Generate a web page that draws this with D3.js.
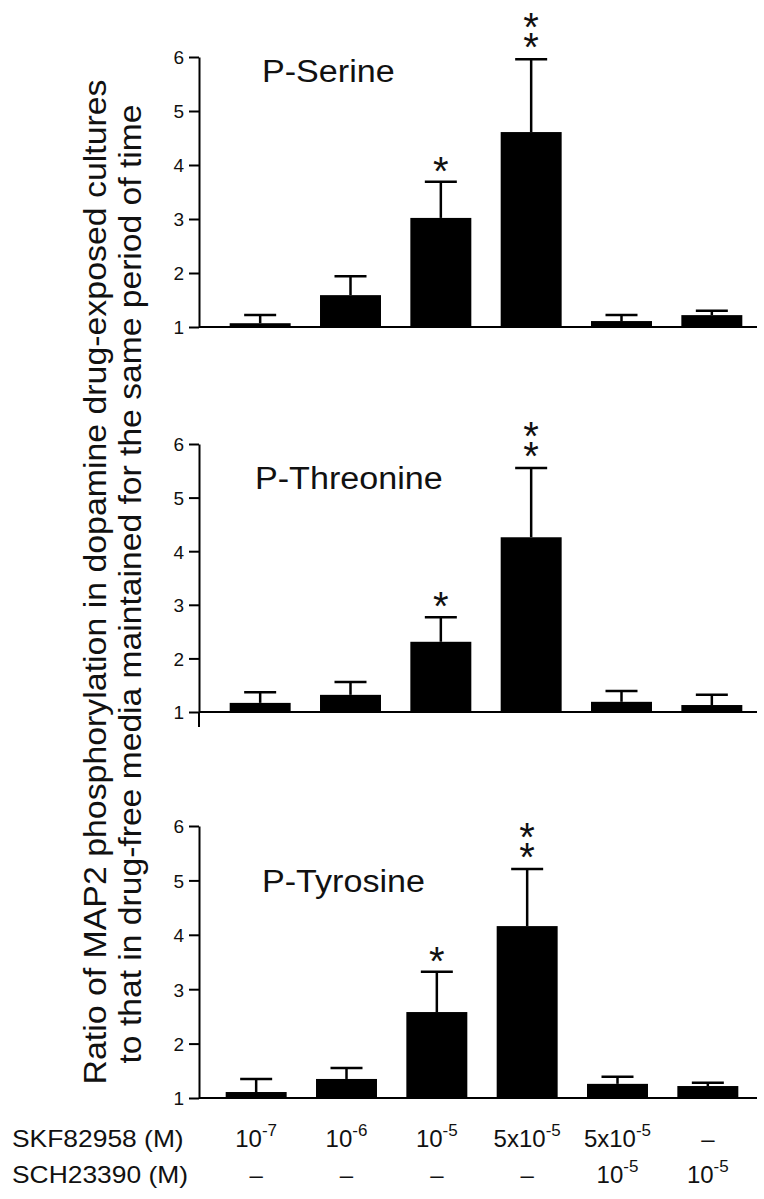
<!DOCTYPE html>
<html>
<head>
<meta charset="utf-8">
<script src="https://cdn.jsdelivr.net/npm/d3@7"></script>
<style>
  body { margin: 0; background: #fff; }
  svg text { font-family: "Liberation Sans", Arial, Helvetica, sans-serif; fill: #111; }
  .stars { writing-mode: vertical-rl; text-orientation: upright; }
</style>
</head>
<body>
<div id="chart"></div>
<script>
// conditions along the x axis
var conditions = ['c1', 'c2', 'c3', 'c4', 'c5', 'c6'];
// SKF82958 and SCH23390 doses: [base, superscript]
var skfLabels = [['10', '-7'], ['10', '-6'], ['10', '-5'], ['5x10', '-5'], ['5x10', '-5'], ['\u2013', '']];
var schLabels = [['\u2013', ''], ['\u2013', ''], ['\u2013', ''], ['\u2013', ''], ['10', '-5'], ['10', '-5']];

var panelTitles = ['P-Serine', 'P-Threonine', 'P-Tyrosine'];

// mean ratio and top of error bar (mean + SEM)
var serineMean = [1.07, 1.59, 3.02, 4.61, 1.11, 1.22];
var serineTop = [1.22, 1.94, 3.69, 5.96, 1.22, 1.30];
var threonineMean = [1.17, 1.32, 2.31, 4.26, 1.19, 1.13];
var threonineTop = [1.37, 1.56, 2.77, 5.55, 1.39, 1.32];
var tyrosineMean = [1.11, 1.35, 2.58, 4.16, 1.26, 1.22];
var tyrosineTop = [1.35, 1.55, 3.32, 5.21, 1.39, 1.28];

var significance = ['', '', '*', '**', '', ''];
var yTicks = [1, 2, 3, 4, 5, 6];

var yLabelLines = [
  'Ratio of MAP2 phosphorylation in dopamine drug-exposed cultures',
  'to that in drug-free media maintained for the same period of time'
];

var width = 764, height = 1199;
var axisX = 199, baseEnd = 757;

var svg = d3.select('#chart')
  .append('svg')
  .attr('width', width)
  .attr('height', height);

// stretch text a little wider, like the scanned figure
function stretch(sel, k) {
  sel.each(function() {
    var len = this.getComputedTextLength();
    d3.select(this).attr('textLength', len * k).attr('lengthAdjust', 'spacingAndGlyphs');
  });
}

// panel layout: y range (value 1 -> value 6), x range, title spot
var panels = [
  { title: panelTitles[0], mean: serineMean, top: serineTop, y0: 327, y1: 57, xr: [215, 757], tx: 262, ty: 82, tail: 0 },
  { title: panelTitles[1], mean: threonineMean, top: threonineTop, y0: 712, y1: 444, xr: [215, 757], tx: 255, ty: 489, tail: 15 },
  { title: panelTitles[2], mean: tyrosineMean, top: tyrosineTop, y0: 1098, y1: 826, xr: [211, 753], tx: 262, ty: 892, tail: 0 }
];

var x;
panels.forEach(function(p) {
  x = d3.scaleBand()
    .domain(conditions)
    .range(p.xr)
    .paddingInner(0.325)
    .paddingOuter(0.1625);

  var y = d3.scaleLinear()
    .domain([1, 6])
    .range([p.y0, p.y1]);

  var g = svg.append('g');

  // bars
  g.selectAll('rect')
    .data(conditions)
    .enter()
    .append('rect')
    .attr('x', function(d) { return x(d); })
    .attr('width', x.bandwidth())
    .attr('y', function(d, i) { return y(p.mean[i]); })
    .attr('height', function(d, i) { return y(1) - y(p.mean[i]); })
    .attr('fill', '#000');

  // error bars (upper only)
  var err = g.selectAll('g.err')
    .data(conditions)
    .enter()
    .append('g')
    .attr('class', 'err')
    .attr('stroke', '#000')
    .attr('stroke-width', 2.5);
  err.append('line')
    .attr('x1', function(d) { return x(d) + x.bandwidth() / 2; })
    .attr('x2', function(d) { return x(d) + x.bandwidth() / 2; })
    .attr('y1', function(d, i) { return y(p.mean[i]); })
    .attr('y2', function(d, i) { return y(p.top[i]); });
  err.append('line')
    .attr('x1', function(d) { return x(d) + x.bandwidth() / 2 - 16; })
    .attr('x2', function(d) { return x(d) + x.bandwidth() / 2 + 16; })
    .attr('y1', function(d, i) { return y(p.top[i]); })
    .attr('y2', function(d, i) { return y(p.top[i]); });

  // significance stars, stacked vertically in one text
  conditions.forEach(function(c, i) {
    var s = significance[i];
    if (!s) return;
    g.append('text')
      .attr('class', 'stars')
      .attr('x', x(c) + x.bandwidth() / 2)
      .attr('y', y(p.top[i]) - 33 - (s.length - 1) * 21)
      .style('font-size', '40px')
      .style('letter-spacing', '-23.7px')
      .text(s);
  });

  // y axis
  var yAxis = g.append('g')
    .attr('transform', 'translate(' + axisX + ',0)')
    .call(d3.axisLeft(y)
      .tickValues(yTicks)
      .tickFormat(d3.format('d'))
      .tickSize(10)
      .tickSizeOuter(0)
      .tickPadding(5));
  yAxis.attr('font-size', null).attr('font-family', null);
  yAxis.select('.domain').attr('stroke', '#000').attr('stroke-width', 2);
  yAxis.selectAll('.tick line').attr('stroke', '#000').attr('stroke-width', 2);
  yAxis.selectAll('.tick text')
    .style('font-size', '19px')
    .attr('dy', '0.36em')
    .attr('fill', '#111');

  // axis tail below the baseline (middle panel)
  if (p.tail) {
    g.append('line')
      .attr('x1', axisX).attr('x2', axisX)
      .attr('y1', y(1)).attr('y2', y(1) + p.tail)
      .attr('stroke', '#000').attr('stroke-width', 2);
  }

  // baseline
  g.append('line')
    .attr('x1', axisX).attr('x2', baseEnd)
    .attr('y1', y(1)).attr('y2', y(1))
    .attr('stroke', '#000').attr('stroke-width', 2);

  // panel title
  g.append('text')
    .attr('x', p.tx)
    .attr('y', p.ty)
    .style('font-size', '31px')
    .text(p.title)
    .call(stretch, 1.1);
});

// dose rows under the bottom panel
function doseRow(labels, name, yPos) {
  svg.append('text')
    .attr('x', 12)
    .attr('y', yPos)
    .style('font-size', '24px')
    .text(name)
    .call(stretch, 1.1);

  labels.forEach(function(l, i) {
    var t = svg.append('text')
      .attr('x', x(conditions[i]) + x.bandwidth() / 2)
      .attr('y', yPos)
      .attr('text-anchor', 'middle')
      .style('font-size', '24px');
    t.append('tspan').text(l[0]);
    if (l[1]) {
      t.append('tspan')
        .attr('dy', -11)
        .style('font-size', '17px')
        .text(l[1]);
    }
  });
}
doseRow(skfLabels, 'SKF82958 (M)', 1147);
doseRow(schLabels, 'SCH23390 (M)', 1183);

// shared y label
var yl = svg.append('g');
yl.append('text')
  .attr('transform', 'translate(106,582) rotate(-90)')
  .attr('text-anchor', 'middle')
  .style('font-size', '32px')
  .attr('textLength', 1005)
  .attr('lengthAdjust', 'spacingAndGlyphs')
  .text(yLabelLines[0]);
yl.append('text')
  .attr('transform', 'translate(141,584) rotate(-90)')
  .attr('text-anchor', 'middle')
  .style('font-size', '32px')
  .attr('textLength', 959)
  .attr('lengthAdjust', 'spacingAndGlyphs')
  .text(yLabelLines[1]);
</script>
</body>
</html>
